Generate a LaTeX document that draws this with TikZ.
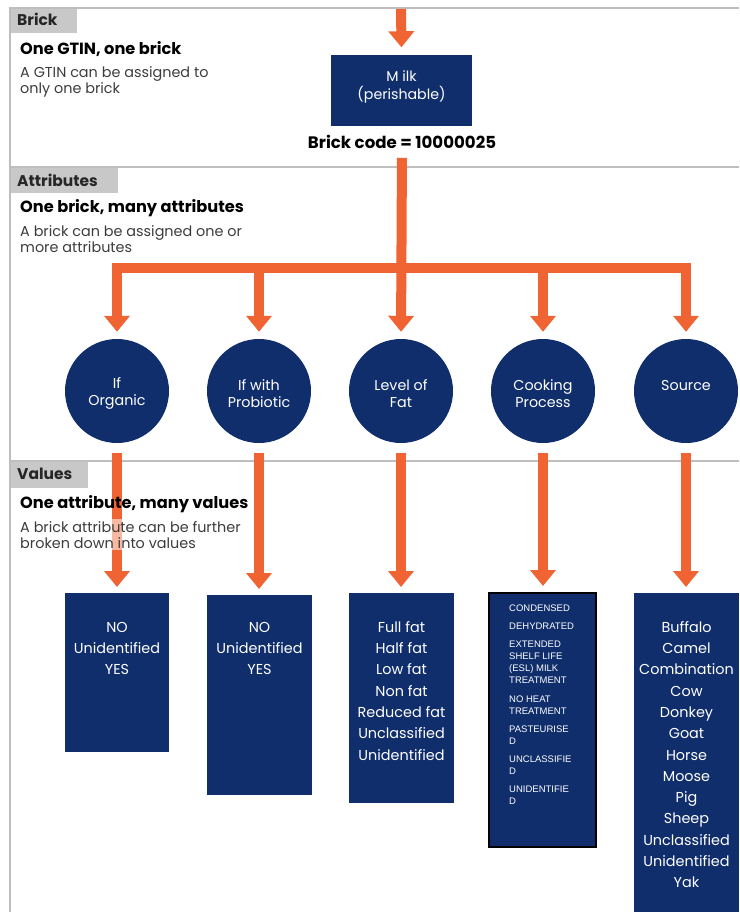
\documentclass[tikz,border=0pt]{standalone}
\usepackage{fontspec}
\setmainfont{Poppins}
\newfontfamily\listfont{Liberation Sans}
\usetikzlibrary{arrows.meta}
\definecolor{navy}{RGB}{16,46,108}
\definecolor{gsorange}{RGB}{240,100,52}
\definecolor{labelgray}{RGB}{200,200,200}
\definecolor{linegray}{RGB}{190,190,190}
\definecolor{bodygray}{RGB}{60,60,60}
\tikzset{
  flow/.style={draw=gsorange, line width=10pt, -{Triangle[width=25pt,length=16pt]}},
  sepline/.style={draw=linegray, line width=1.5pt},
  labeltext/.style={anchor=west, inner sep=0pt, font=\bfseries\fontsize{15.5}{17}\selectfont, text=black!85},
  heading/.style={anchor=west, inner sep=0pt, font=\bfseries\fontsize{16.2}{19}\selectfont, text=black},
  subtext/.style={anchor=north west, inner sep=0pt, align=left, font=\fontsize{14.4}{16}\selectfont, text=bodygray},
  attrnode/.style={circle, fill=navy, minimum size=104pt, inner sep=0pt},
  attrtext/.style={text=white, inner sep=0pt, align=center, font=\fontsize{14.3}{17}\selectfont},
  valbox/.style={fill=navy, anchor=north, inner sep=0pt},
  valtext/.style={text=white, anchor=north, inner sep=0pt, align=center, font=\fontsize{14.4}{21.3}\selectfont},
}
\begin{document}
\begin{tikzpicture}[x=1pt, y=-1pt]
  \useasboundingbox (0,0) rectangle (739,912);
  \clip (0,0) rectangle (739,912);

  % Frame and section rules
  \draw[sepline] (10,912) -- (10,8) -- (739,8);
  \draw[sepline] (10,167) -- (739,167);
  \draw[sepline] (10,461) -- (739,461);
  \fill[labelgray] (11,9) rectangle (77,33);
  \fill[labelgray] (11,168) rectangle (118,193);
  \fill[labelgray] (11,462) rectangle (88,488);
  \node[labeltext] (brickhead) at (17,19) {Brick};
  \node[labeltext] (attrhead) at (17,180) {Attributes};
  \node[labeltext] (valhead) at (17,474) {Values};

  % Brick
  \coordinate (feed) at (401,9);
  \node[fill=navy, minimum width=141pt, minimum height=71pt, inner sep=0pt] (milk) at (401.5,91) {};
  \node[text=white, inner sep=0pt, align=center, font=\fontsize{14.2}{18}\selectfont]
    at ([yshift=4pt]milk.center) {M ilk\\(perishable)};
  \node[inner sep=0pt, font=\bfseries\fontsize{16.6}{18}\selectfont] (code) at (402,142) {Brick code = 10000025};
  \draw[flow] (feed) -- ([yshift=8pt]milk.north);

  % Attributes
  \coordinate (bar) at (401,268);
  \node[attrnode] (attr1) at (117,391) {};
  \node[attrnode] (attr2) at (259,391) {};
  \node[attrnode] (attr3) at (401,391) {};
  \node[attrnode] (attr4) at (543,391) {};
  \node[attrnode] (attr5) at (686,391) {};
  \node[attrtext] at ([yshift=-2.5pt]attr1.center) {If\\Organic};
  \node[attrtext] at ([yshift=-2.5pt]attr2.center) {If with\\Probiotic};
  \node[attrtext] at ([yshift=-2.5pt]attr3.center) {Level of\\Fat};
  \node[attrtext] at ([yshift=-2.5pt]attr4.center) {Cooking\\Process};
  \node[attrtext] at ([yshift=5pt]attr5.center) {Source};
  \draw[flow, shorten <=9pt, shorten >=7pt] (code.south) -- (attr3.north);
  \draw[flow, shorten >=7pt] (bar) -| (attr1.north);
  \draw[flow, shorten >=7pt] (bar) -| (attr5.north);
  \draw[flow, shorten >=7pt] (attr2.north |- bar) -- (attr2.north);
  \draw[flow, shorten >=7pt] (attr4.north |- bar) -- (attr4.north);

  % Values
  \node[valbox, minimum width=104pt, minimum height=159pt] (val1) at (117,593) {};
  \node[valbox, minimum width=105pt, minimum height=200pt] (val2) at (259.5,595) {};
  \node[valbox, minimum width=105pt, minimum height=210pt] (val3) at (401.5,593) {};
  \node[valbox, draw=black, line width=2pt, minimum width=107pt, minimum height=254pt] (val4) at (542.5,592) {};
  \node[valbox, minimum width=105pt, minimum height=330pt] (val5) at (686.5,593) {};
  \node[valtext] at ([yshift=-29pt]val1.north) {NO\\Unidentified\\YES};
  \node[valtext] at ([yshift=-27pt]val2.north) {NO\\Unidentified\\YES};
  \node[valtext] at ([yshift=-28pt]val3.north) {Full fat\\Half fat\\Low fat\\Non fat\\Reduced fat\\Unclassified\\Unidentified};
  \node[text=white, anchor=north west, inner sep=0pt, align=left, font=\listfont\fontsize{9.5}{12}\selectfont]
    at (509,605) {CONDENSED\\[6pt]DEHYDRATED\\[6pt]EXTENDED\\SHELF LIFE\\(ESL) MILK\\TREATMENT\\[7pt]NO HEAT\\TREATMENT\\[6pt]PASTEURISE\\D\\[6pt]UNCLASSIFIE\\D\\[6pt]UNIDENTIFIE\\D};
  \node[valtext] at ([yshift=-28pt]val5.north) {Buffalo\\Camel\\Combination\\Cow\\Donkey\\Goat\\Horse\\Moose\\Pig\\Sheep\\Unclassified\\Unidentified\\Yak};
  \foreach \i in {1,...,5}
    \draw[flow, shorten <=10pt, shorten >=6pt] (attr\i.south) -- (attr\i.south |- val\i.north);

  % Section texts
  \node[heading] (brickrule) at (20,49) {One GTIN, one brick};
  \node[subtext] at (20,66) {A GTIN can be assigned to\\only one brick};
  \node[heading] (attrrule) at (20,208) {One brick, many attributes};
  \node[subtext] at (20,225) {A brick can be assigned one or\\more attributes};
  \node[heading] (valrule) at (20,504) {One attribute, many values};
  \node[subtext, fill=white, fill opacity=0.55, text opacity=1, inner ysep=2pt] at (20,519) {A brick attribute can be further\\broken down into values};
\end{tikzpicture}
\end{document}
